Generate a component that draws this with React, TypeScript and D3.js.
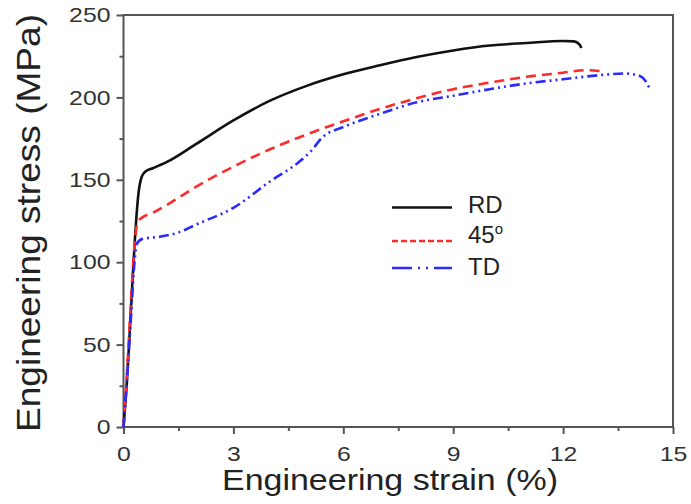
import React, { useRef, useEffect } from "react";
import * as d3 from "d3";

// Engineering strain (%) / stress (MPa)
const rdStrain = [0, 0.1, 0.2, 0.3, 0.4, 0.5, 0.6, 0.8, 1.2, 2, 3, 4, 5, 6, 7, 8, 9, 10, 11, 12, 12.3, 12.45, 12.5];
const rdStress = [0, 30, 70, 110, 140, 152, 155, 157, 161, 172, 186, 198, 207, 214, 219.5, 224.5, 228.5, 231.5, 233, 234.2, 234, 232, 230];

const d45Strain = [0, 0.1, 0.2, 0.3, 0.38, 0.5, 0.8, 1.2, 2, 3, 4, 5, 6, 7, 8, 9, 10, 11, 12, 12.6, 13.0];
const d45Stress = [0, 35, 75, 110, 124, 127, 130, 135, 146, 158, 168.5, 177.5, 185.5, 193, 199.5, 205, 209, 212.5, 215, 216.5, 216];

const tdStrain = [0, 0.1, 0.2, 0.3, 0.36, 0.5, 1, 1.5, 2, 3, 4, 4.8, 5.1, 5.44, 6, 7, 8, 9, 10, 11, 12, 13, 13.7, 14.1, 14.25, 14.36];
const tdStress = [0, 30, 65, 100, 111, 114, 115.5, 118, 123, 133, 149, 161, 167, 176, 182, 190, 197, 201, 205, 208.5, 211, 213.5, 214.5, 213, 210, 205.5];

const xTicks = [0, 3, 6, 9, 12, 15];
const yTicks = [0, 50, 100, 150, 200, 250];

const series = [
  { name: "RD", xs: rdStrain, ys: rdStress, color: "#111111", dash: null, legendDash: null },
  { name: "45", xs: d45Strain, ys: d45Stress, color: "#ff2a2a", dash: "10,6", legendDash: "6,3" },
  { name: "TD", xs: tdStrain, ys: tdStress, color: "#2a2aff", dash: "10,4,2,4,2,4", legendDash: "20,6,2,6,2,6" },
];

const FONT = "'Liberation Sans', Arial, sans-serif";

const App = () => {
  const svgRef = useRef<SVGSVGElement | null>(null);
  const width = 691;
  const height = 504;

  useEffect(() => {
    const svg = d3.select(svgRef.current);
    svg.selectAll("*").remove();

    const margin = { top: 15, right: 18, bottom: 77, left: 123.5 };
    const innerW = width - margin.left - margin.right;
    const innerH = height - margin.top - margin.bottom;

    const x = d3.scaleLinear().domain([0, 15]).range([0, innerW]);
    const y = d3.scaleLinear().domain([0, 250]).range([innerH, 0]);

    const g = svg.append("g").attr("transform", `translate(${margin.left},${margin.top})`);
    const axisColor = "#555";

    // minor ticks
    const xMinor = d3.range(1.5, 15, 3);
    const yMinor = d3.range(25, 250, 50);
    g.append("g")
      .attr("transform", `translate(0,${innerH})`)
      .call(d3.axisBottom(x).tickValues(xMinor).tickSize(4).tickFormat(() => ""))
      .call(a => a.select(".domain").remove())
      .call(a => a.selectAll("line").attr("stroke", axisColor).attr("stroke-width", 2));
    g.append("g")
      .call(d3.axisLeft(y).tickValues(yMinor).tickSize(4).tickFormat(() => ""))
      .call(a => a.select(".domain").remove())
      .call(a => a.selectAll("line").attr("stroke", axisColor).attr("stroke-width", 2));

    // major ticks + labels
    const xAxis = g.append("g")
      .attr("transform", `translate(0,${innerH})`)
      .call(d3.axisBottom(x).tickValues(xTicks).tickSize(7).tickPadding(12).tickFormat(d3.format("d")));
    const yAxis = g.append("g")
      .call(d3.axisLeft(y).tickValues(yTicks).tickSize(7).tickPadding(6).tickFormat(d3.format("d")));
    [xAxis, yAxis].forEach(a => {
      a.select(".domain").remove();
      a.selectAll("line").attr("stroke", axisColor).attr("stroke-width", 2);
      a.selectAll("text")
        .attr("fill", "#333")
        .style("font-family", FONT)
        .style("font-size", "21px")
        .attr("textLength", (d: any) => String(d).length * 13.8)
        .attr("lengthAdjust", "spacingAndGlyphs");
    });

    // frame
    g.append("rect")
      .attr("width", innerW)
      .attr("height", innerH)
      .attr("fill", "none")
      .attr("stroke", axisColor)
      .attr("stroke-width", 2);

    // curves
    series.forEach(s => {
      const pts = s.xs.map((v, i) => [v, s.ys[i]] as [number, number]);
      const line = d3.line<[number, number]>()
        .x(d => x(d[0]))
        .y(d => y(d[1]))
        .curve(d3.curveMonotoneX);
      g.append("path")
        .datum(pts)
        .attr("d", line)
        .attr("fill", "none")
        .attr("stroke", s.color)
        .attr("stroke-width", 2.6)
        .attr("stroke-dasharray", s.dash)
        .attr("stroke-linejoin", "round");
    });

    // legend
    const legendY = [207.5, 241, 268];
    const textY = [213, 243, 275];
    series.forEach((s, i) => {
      svg.append("line")
        .attr("x1", 392).attr("x2", 452)
        .attr("y1", legendY[i]).attr("y2", legendY[i])
        .attr("stroke", s.color)
        .attr("stroke-width", 2.6)
        .attr("stroke-dasharray", s.legendDash);
      const t = svg.append("text")
        .attr("x", 468)
        .attr("y", textY[i])
        .attr("fill", "#222")
        .style("font-family", FONT)
        .style("font-size", "24px")
        .text(s.name);
      if (s.name === "45") {
        t.append("tspan")
          .attr("dy", -9)
          .style("font-size", "15px")
          .text("o");
      }
    });

    // axis titles
    svg.append("text")
      .attr("x", 390)
      .attr("y", 490)
      .attr("text-anchor", "middle")
      .attr("fill", "#222")
      .style("font-family", FONT)
      .style("font-size", "29px")
      .attr("textLength", 336)
      .attr("lengthAdjust", "spacingAndGlyphs")
      .text("Engineering strain (%)");

    svg.append("text")
      .attr("transform", `translate(40,223) rotate(-90)`)
      .attr("text-anchor", "middle")
      .attr("fill", "#222")
      .style("font-family", FONT)
      .style("font-size", "34px")
      .attr("textLength", 418)
      .attr("lengthAdjust", "spacingAndGlyphs")
      .text("Engineering stress (MPa)");
  }, []);

  return (
    <svg
      ref={svgRef}
      width={width}
      height={height}
      style={{ position: "absolute", left: 0, top: 0, background: "#fff" }}
    />
  );
};

export default App;
